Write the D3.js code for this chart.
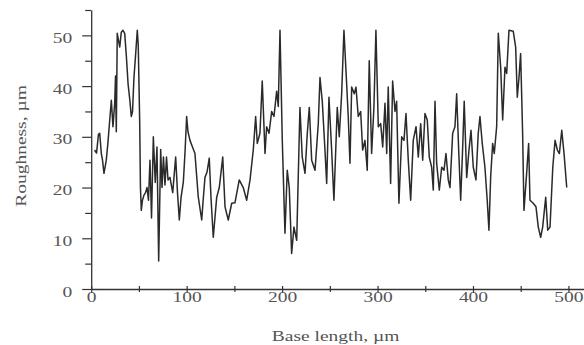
<!DOCTYPE html>
<html><head><meta charset="utf-8">
<script src="https://cdn.jsdelivr.net/npm/d3@7"></script>
<style>html,body{margin:0;padding:0;background:#fff;}svg{display:block;}</style>
</head><body>
<svg id="c" width="584" height="345"></svg>
<script>
// Base length (µm)
const baseLength = [3.5,5.6,7.6,8.9,10.6,11.8,13.4,15.8,17.6,19.4,21.1,22.8,24.6,25.5,26.3,27.3,28.6,29.9,31.5,33.3,35.1,36.8,38.6,40.6,42.0,43.3,44.8,46.6,48.3,49.3,50.8,51.6,52.5,53.7,55.3,56.9,58.5,60.0,61.6,63.2,65.1,67.1,68.9,70.7,72.8,74.2,75.7,77.3,78.9,80.5,82.5,85.4,88.5,90.4,92.3,94.1,96.5,98.3,100.0,101.4,103.5,106.1,108.7,112.2,115.8,117.1,119.2,121.3,123.7,125.5,127.9,131.5,134.2,137.8,140.2,143.6,147.2,150.6,155.1,159.3,162.9,166.4,169.8,172.3,174.0,176.8,179.2,182.1,183.8,186.3,189.1,191.5,194.3,196.0,197.8,200.2,203.0,205.4,207.5,210.0,212.4,215.3,218.7,221.1,224.0,226.4,228.5,231.0,234.5,237.9,239.7,242.1,244.9,246.7,249.1,251.9,254.3,257.8,259.9,262.4,264.8,267.6,269.3,271.1,272.9,275.6,277.4,279.8,282.3,284.4,286.8,289.2,291.3,293.8,296.2,298.3,300.8,303.3,305.4,307.8,309.6,311.2,313.7,315.8,318.3,320.0,322.4,325.3,327.7,329.8,332.2,334.7,337.4,340.3,342.7,345.2,347.3,349.7,352.1,354.2,356.7,358.4,360.2,361.9,364.7,367.2,369.6,371.7,374.1,375.9,378.7,381.1,382.9,385.0,387.1,389.2,390.8,393.4,395.8,397.9,400.3,403.1,405.5,407.3,409.7,412.5,414.9,416.7,418.5,420.6,422.3,424.8,426.5,429.0,431.1,433.5,435.3,437.7,442.2,444.7,446.4,448.2,449.9,452.0,453.4,456.2,458.3,459.7,463.1,466.0,468.4,470.9,473.0,476.2,478.3,480.7,483.6,486.0,488.4,490.5,493.0,495.4,498.2];
// Roughness (µm)
const roughness = [27.4,26.8,30.5,30.7,26.7,25.5,22.8,25.4,29,33.3,37.2,32,36.6,42,31,50.4,49,47.7,50.6,51,50.4,46,40.5,37,34,35,41.7,46.4,51,48,33,20,15.5,17.5,18.5,19,20,17.5,25.4,14,30,21,28,5.5,27.5,20,26,20.5,26,21.5,22,19,26,19,13.6,18,21,27,34,31,29.3,28,26.7,18.1,13.6,17,22,23,25.8,18,10.2,18.1,20,26,16.2,13.6,16.9,17,21.5,20,17.5,21.5,27.4,34,28.7,30.7,41,26.7,32,30.7,35,34,39,36,51,29.3,11,23.4,20,7,12.2,9.6,35.8,26,22.8,30.7,35.8,25.4,23.4,32.6,41.7,37,27.4,20.8,37.8,27.4,17.5,35.8,30,38.5,51,40.5,34,24.8,39.8,38.5,39.8,34,35,27.4,29.3,23.4,45,26.7,35.8,51,32,32.6,28,36.6,26.7,39.8,20.8,41,35,37,16.9,30,29.3,34.6,25.4,17.5,29.3,32,26,32.6,25.4,34.6,33.3,26,24,19.5,37,24.8,19.5,24,23.4,26.7,21.5,20,30.7,32,38.5,27.4,17.5,28,37,22,27.4,31.3,24,21.5,30.7,34,28.7,24,17.5,11.6,22,28.7,26.7,32,50.4,43.7,33.3,43.7,42.5,51,50.8,47.7,37.8,41.7,46.4,30.7,15.5,22.8,28.7,17.5,16.9,16.2,12.2,10.2,12.2,18.1,11.6,12.2,24,29.3,27.4,26.7,31.3,26.7,20];
const xTickMajor = [0,100,200,300,400,500];
const xTickMinor = [50,150,250,350,450];
const yTickMajor = [0,10,20,30,40,50];
const yTickMinor = [5,15,25,35,45,55];
const xTitle = "Base length, µm";
const yTitle = "Roughness, µm";

const svg = d3.select("#c");
const x = d3.scaleLinear().domain([0, 516.3]).range([91.2, 584]);
const y = d3.scaleLinear().domain([0, 55]).range([289, 10]);
const font = "'Liberation Serif','Times New Roman',serif";

// data line
const pts = baseLength.map((d,i)=>[d, roughness[i]]);
svg.append("path").datum(pts)
  .attr("fill","none").attr("stroke","#2a2a2a").attr("stroke-width",1.5)
  .attr("stroke-linejoin","round")
  .attr("d", d3.line().x(d=>x(d[0])).y(d=>y(d[1])));

// Y axis
const gy = svg.append("g").attr("transform",`translate(${x(0)},0)`);
gy.call(d3.axisLeft(y).tickValues(yTickMajor).tickSize(9).tickSizeOuter(0).tickFormat(d3.format("d")));
gy.append("g").call(d3.axisLeft(y).tickValues(yTickMinor).tickSize(6).tickSizeOuter(0).tickFormat(""))
  .select(".domain").remove();
gy.selectAll(".domain").attr("stroke","#333").attr("stroke-width",1.3);
gy.selectAll(".tick line").attr("stroke","#333").attr("stroke-width",1.2);
gy.selectAll(".tick text").attr("x",null).attr("dy",null)
  .attr("transform","translate(-19,7) scale(1.3,1)")
  .attr("text-anchor","end").attr("fill","#555")
  .style("font-family",font).style("font-size","15px");

// X axis
const gx = svg.append("g").attr("transform",`translate(0,${y(0)})`);
gx.call(d3.axisBottom(x).tickValues(xTickMajor).tickSize(4).tickSizeOuter(0).tickFormat(d3.format("d")));
gx.append("g").call(d3.axisBottom(x).tickValues(xTickMinor).tickSize(3).tickSizeOuter(0).tickFormat(""))
  .select(".domain").remove();
gx.selectAll(".domain").attr("stroke","#333").attr("stroke-width",1.3);
gx.selectAll(".tick line").attr("stroke","#333").attr("stroke-width",1.2).attr("y1",-3);
gx.selectAll(".tick text").attr("y",null).attr("dy",null)
  .attr("transform","translate(0,13) scale(1.3,1)")
  .attr("text-anchor","middle").attr("fill","#555")
  .style("font-family",font).style("font-size","15px");

// titles
svg.append("text").text(xTitle)
  .attr("transform",`translate(${x(256)},341) scale(1.3,1)`)
  .attr("text-anchor","middle").attr("fill","#555")
  .style("font-family",font).style("font-size","15px");
svg.append("text").text(yTitle)
  .attr("transform","translate(26,146) rotate(-90) scale(1.3,1)")
  .attr("text-anchor","middle").attr("fill","#555")
  .style("font-family",font).style("font-size","15px");
</script>
</body></html>
